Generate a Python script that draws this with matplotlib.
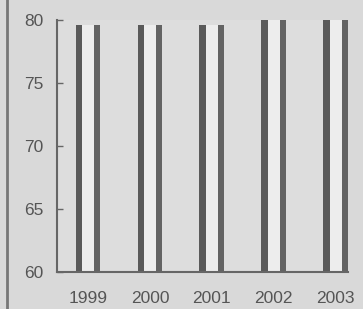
import numpy as np
import matplotlib.pyplot as plt

years = ['1999', '2000', '2001', '2002', '2003']
left_vals = [79.6, 79.6, 79.6, 80.0, 80.0]
right_vals = [79.6, 79.6, 79.6, 80.0, 80.0]
yticks = [60, 65, 70, 75, 80]

plt.rcParams['font.family'] = ['Liberation Sans', 'DejaVu Sans']

fig = plt.figure(figsize=(3.63, 3.09), dpi=100, facecolor='#d9d9d9')
ax = fig.add_axes([0.157, 0.12, 0.802, 0.815])
ax.set_facecolor('#dddddd')

x = np.arange(len(years))
top = np.maximum(left_vals, right_vals)
ax.bar(x, top - 60, 0.2, bottom=60, color='#ededed', zorder=1)
ax.bar(x - 0.15, np.array(left_vals) - 60, 0.1, bottom=60, color='#5a5a5a', zorder=2)
ax.bar(x + 0.15, np.array(right_vals) - 60, 0.1, bottom=60, color='#636363', zorder=2)

ax.set_xlim(-0.5, 4.2)
ax.set_ylim(60, 80)
ax.set_yticks(yticks)
ax.set_xticks(x)
ax.set_xticklabels(years)

for s in ['top', 'right']:
    ax.spines[s].set_visible(False)
for s in ['left', 'bottom']:
    ax.spines[s].set_color('#666666')
    ax.spines[s].set_linewidth(1.5)

ax.tick_params(axis='y', direction='in', length=4, width=1, color='#666666',
               labelsize=12.5, labelcolor='#555555', pad=10)
ax.tick_params(axis='x', length=0, labelsize=12.5, labelcolor='#555555', pad=14)

# page border line on the left
fig.add_artist(plt.Line2D([0.019, 0.019], [0, 1], color='#777777', lw=2))

fig.savefig('out.png', dpi=100, facecolor=fig.get_facecolor())
